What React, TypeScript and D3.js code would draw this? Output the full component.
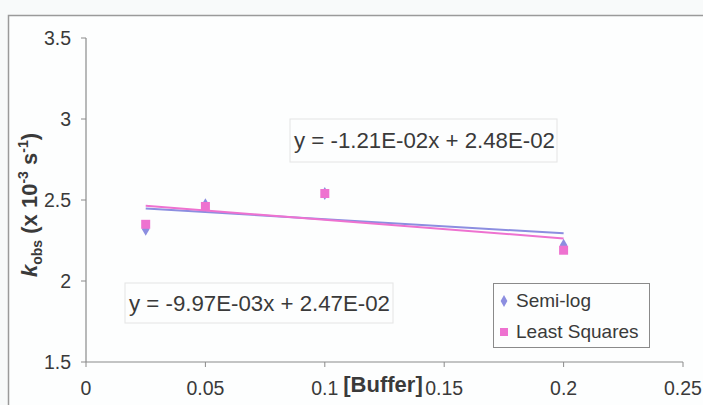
import React from "react";
import * as d3 from "d3";

const bufferConc = [0.025, 0.05, 0.1, 0.2];
const semiLog = [2.32, 2.47, 2.54, 2.22];
const leastSquares = [2.35, 2.46, 2.54, 2.19];
const xTicks = [0, 0.05, 0.1, 0.15, 0.2, 0.25];
const yTicks = [1.5, 2, 2.5, 3, 3.5];
const seriesNames = ["Semi-log", "Least Squares"];
const equations = ["y = -1.21E-02x + 2.48E-02", "y = -9.97E-03x + 2.47E-02"];

const W = 703, H = 405;
const x = d3.scaleLinear().domain([0, 0.25]).range([86, 683]);
const y = d3.scaleLinear().domain([1.5, 3.5]).range([362, 38]);

function fit(xs: number[], ys: number[]) {
  const mx = d3.mean(xs)!, my = d3.mean(ys)!;
  let sxy = 0, sxx = 0;
  xs.forEach((v, i) => { sxy += (v - mx) * (ys[i] - my); sxx += (v - mx) ** 2; });
  const m = sxy / sxx;
  return { m, b: my - m * mx };
}

const BLUE = "#8c8ee0";
const PINK = "#ee72d0";
const FONT = "Liberation Sans, Arial, sans-serif";
const TXT = "#3a3a3a";

export default function App() {
  const ext = d3.extent(bufferConc) as [number, number];
  const fb = fit(bufferConc, semiLog);
  const fp = fit(bufferConc, leastSquares);
  const line = d3.line<[number, number]>().x(d => x(d[0])).y(d => y(d[1]));
  const tl = (f: { m: number; b: number }) => line(ext.map(v => [v, f.m * v + f.b] as [number, number]))!;
  const diamond = d3.symbol().type(d3.symbolDiamond).size(50)()!;
  return (
    <svg width={W} height={H} style={{ position: "absolute", left: 0, top: 0 }} fontFamily={FONT}>
      <rect x={0} y={0} width={W} height={H} fill="#f8fafa" />
      <rect x={8.5} y={15.5} width={W} height={H} fill="#fdfefe" />
      <path d={`M8.5,${H} V15.5 H${W}`} fill="none" stroke="#9a9a9a" strokeWidth={1.5} />
      {/* axes */}
      <line x1={x(0)} x2={x(0)} y1={y(3.5)} y2={y(1.5)} stroke="#8a8a8a" strokeWidth={1.2} />
      <line x1={x(0)} x2={x(0.25)} y1={y(1.5)} y2={y(1.5)} stroke="#8a8a8a" strokeWidth={1.2} />
      {yTicks.map(t => (
        <g key={"y" + t}>
          <line x1={x(0) - 5} x2={x(0)} y1={y(t)} y2={y(t)} stroke="#8a8a8a" />
          <text x={71} y={y(t) + 7} textAnchor="end" fontSize={19.5} fill={TXT}>{t}</text>
        </g>
      ))}
      {xTicks.map(t => (
        <g key={"x" + t}>
          <line x1={x(t)} x2={x(t)} y1={y(1.5)} y2={y(1.5) + 5} stroke="#8a8a8a" />
          <text x={x(t)} y={395} textAnchor="middle" fontSize={19.5} fill={TXT}>{t}</text>
        </g>
      ))}
      <text x={383} y={392} textAnchor="middle" fontSize={22} fontWeight="bold" fill={TXT}>[Buffer]</text>
      <text transform="translate(37,205) rotate(-90)" textAnchor="middle" fontSize={22} fontWeight="bold" fill={TXT}>
        <tspan fontStyle="italic">k</tspan>
        <tspan fontSize={14} dy={5}>obs</tspan>
        <tspan dy={-5}> (x 10</tspan>
        <tspan fontSize={14} dy={-9}>-3</tspan>
        <tspan dy={9}> s</tspan>
        <tspan fontSize={14} dy={-9}>-1</tspan>
        <tspan dy={9}>)</tspan>
      </text>
      {/* trend lines */}
      <path d={tl(fb)} fill="none" stroke={BLUE} strokeWidth={2} />
      <path d={tl(fp)} fill="none" stroke={PINK} strokeWidth={2} />
      {/* markers */}
      {bufferConc.map((v, i) => (
        <path key={"d" + i} d={diamond} transform={`translate(${x(v)},${y(semiLog[i])})`} fill={BLUE} />
      ))}
      {bufferConc.map((v, i) => (
        <rect key={"s" + i} x={x(v) - 4.5} y={y(leastSquares[i]) - 4.5} width={9} height={9} fill={PINK} />
      ))}
      {/* equation labels */}
      <rect x={290} y={119} width={267} height={43} fill="#fdfefe" stroke="#e4e4e4" />
      <text x={294} y={148} fontSize={21.5} fill={TXT} textLength={261} lengthAdjust="spacingAndGlyphs">{equations[0]}</text>
      <rect x={125} y={283} width={268} height={40} fill="#fdfefe" stroke="#e4e4e4" />
      <text x={129} y={311} fontSize={21.5} fill={TXT} textLength={261} lengthAdjust="spacingAndGlyphs">{equations[1]}</text>
      {/* legend */}
      <rect x={493.5} y={283.5} width={156} height={64} fill="#fdfefe" stroke="#8a8a8a" />
      <path d={d3.symbol().type(d3.symbolDiamond).size(40)()!} transform="translate(504,301)" fill={BLUE} />
      <text x={516} y={307} fontSize={19} fill={TXT}>{seriesNames[0]}</text>
      <rect x={500} y={328} width={8} height={8} fill={PINK} />
      <text x={516} y={338} fontSize={19} fill={TXT}>{seriesNames[1]}</text>
    </svg>
  );
}
